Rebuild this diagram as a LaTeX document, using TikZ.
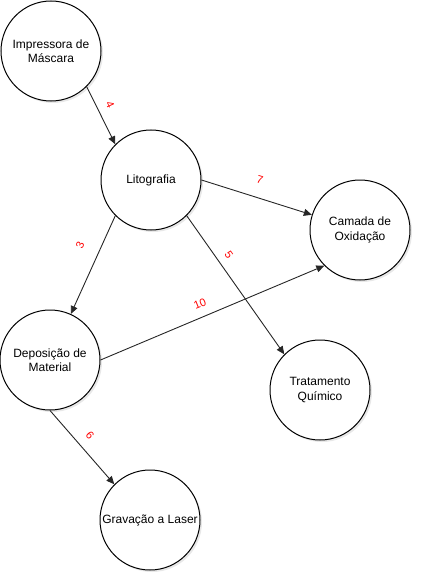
\documentclass[tikz,border=0pt]{standalone}
\usepackage{fontspec}
\setmainfont{Liberation Sans}
\usepackage{tikz}
\usetikzlibrary{positioning}
\usetikzlibrary{arrows.meta}
\usetikzlibrary{shadows}

\begin{document}
\begin{tikzpicture}[x=1pt, y=-1pt,
                stepnode/.style={circle, draw, fill=white, line width=1pt, minimum size=100pt, inner sep=0pt, align=center,
                                 font=\fontsize{12}{14.5}\selectfont,
                                 drop shadow={opacity=0.18, shadow xshift=2pt, shadow yshift=-2pt}},
                weight/.style={text=red, font=\fontsize{11}{12}\selectfont, inner sep=0pt},
                link/.style={-{Triangle[length=8pt, width=7pt]}, line width=0.9pt, draw=black!85},
            ]
            \useasboundingbox (0,0) rectangle (422,583);

            % Nodes
            \node[stepnode]     (impressora)    at (51,51)      {Impressora de\\Máscara};
            \node[stepnode]     (litografia)    at (151,180)    {Litografia};
            \node[stepnode]     (oxidacao)      at (360,230)    {Camada de\\Oxidação};
            \node[stepnode]     (deposicao)     at (50,360)     {Deposição de\\Material};
            \node[stepnode]     (tratamento)    at (320,390)    {Tratamento\\Químico};
            \node[stepnode]     (gravacao)      at (150,520)    {Gravação a Laser};

            % Weights
            \node[weight, rotate=-65]   (w_imp_lit)     at (110,105)    {4};
            \node[weight, rotate=-17]   (w_lit_oxi)     at (260,180)    {7};
            \node[weight, rotate=67]    (w_lit_dep)     at (80,245)     {3};
            \node[weight, rotate=-55]   (w_lit_tra)     at (229,255)    {5};
            \node[weight, rotate=22]    (w_dep_oxi)     at (200,304)    {10};
            \node[weight, rotate=-50]   (w_dep_gra)     at (90,435)     {6};

            %Lines
            \draw[link] (impressora.south east) -- (litografia.north west);

            \draw[link] (litografia.east) -- (oxidacao);
            \draw[link] (litografia.south east) -- (tratamento.north west);
            \draw[link] (litografia.south west) -- (deposicao);

            \draw[link] (deposicao.east) -- (oxidacao.south west);
            \draw[link] (deposicao.south) -- (gravacao.north west);
        \end{tikzpicture}
\end{document}
